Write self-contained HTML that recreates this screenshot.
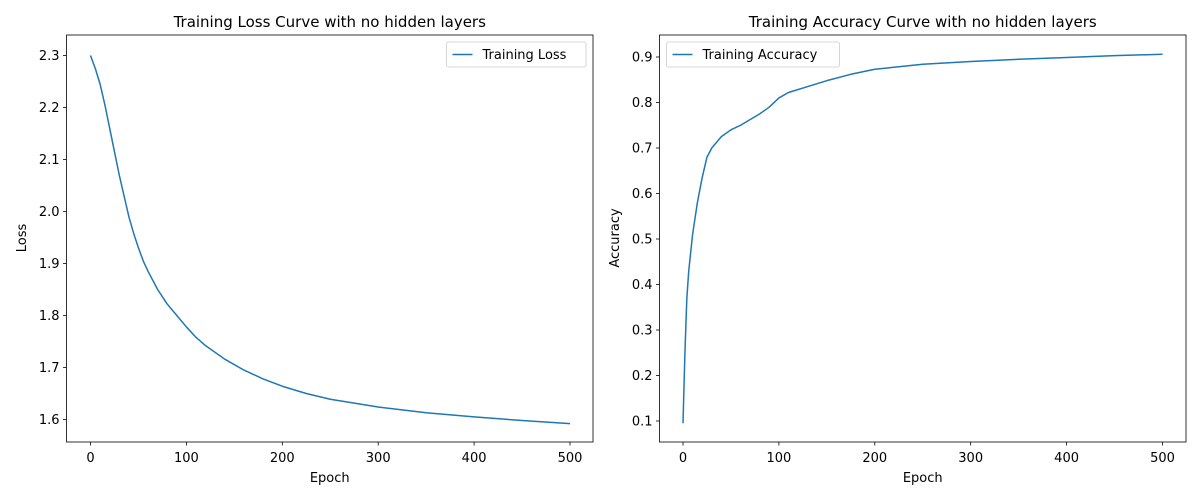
<!DOCTYPE html>
<html><head><meta charset="utf-8"><style>
body{margin:0;background:#fff;font-family:"DejaVu Sans","Liberation Sans",sans-serif}
svg text{font-family:"DejaVu Sans","Liberation Sans",sans-serif;fill:#000}
</style></head><body>
<svg id="chart" width="1200" height="500" xmlns="http://www.w3.org/2000/svg"></svg>
<script>
const lossEpochs=[0,5,10,15,20,25,30,35,40,45,50,55,60,70,80,90,100,110,120,140,160,180,200,225,250,300,350,400,450,500];
const lossValues=[2.30,2.275,2.245,2.205,2.16,2.115,2.07,2.03,1.99,1.958,1.93,1.905,1.885,1.850,1.822,1.800,1.778,1.758,1.742,1.716,1.695,1.678,1.664,1.650,1.639,1.624,1.613,1.605,1.598,1.592];
const accEpochs=[0,2,4,6,10,15,20,25,30,40,50,60,80,90,100,110,130,150,175,200,250,300,350,400,450,500];
const accValues=[0.095,0.25,0.37,0.43,0.51,0.58,0.635,0.68,0.70,0.725,0.74,0.75,0.775,0.79,0.81,0.822,0.835,0.848,0.862,0.873,0.884,0.89,0.895,0.899,0.903,0.906];
const xTicks=[0,100,200,300,400,500];
const lossTicks=[1.6,1.7,1.8,1.9,2.0,2.1,2.2,2.3];
const accTicks=[0.1,0.2,0.3,0.4,0.5,0.6,0.7,0.8,0.9];
const NS="http://www.w3.org/2000/svg";
const svg=document.getElementById('chart');
function mk(t,a,p){const e=document.createElementNS(NS,t);for(const k in a)e.setAttribute(k,a[k]);(p||svg).appendChild(e);return e;}
function panel(o){
  const g=mk('g',{});
  
  
  const sx=v=>o.x0+(v-0)*(o.x500-o.x0)/500;
  const sy=v=>o.yA+(v-o.vA)*(o.yB-o.yA)/(o.vB-o.vA);
  const pts=o.xs.map((x,i)=>sx(x).toFixed(2)+','+sy(o.ys[i]).toFixed(2)).join(' ');
  const pl=mk('polyline',{points:pts,fill:'none',stroke:'#1f77b4','stroke-width':1.5,'stroke-linejoin':'round'},g);
  
  
  const fr=mk('rect',{x:o.L,y:35,width:o.R-o.L,height:442-35,fill:'none',stroke:'#000','stroke-width':0.8},g);
  
  
  xTicks.forEach(t=>{const x=sx(t);mk('line',{x1:x,x2:x,y1:442,y2:445.5,stroke:'#000','stroke-width':0.8},g);
    const tx=mk('text',{x:x,y:462,'font-size':13,'text-anchor':'middle'},g);tx.textContent=t;
    
    });
  o.ticks.forEach(t=>{const y=sy(t);mk('line',{x1:o.L,x2:o.L-3.5,y1:y,y2:y,stroke:'#000','stroke-width':0.8},g);
    const tx=mk('text',{x:o.L-7,y:y+4.5,'font-size':13,'text-anchor':'end'},g);tx.textContent=t.toFixed(1);
    
    });
  const ti=mk('text',{x:(o.L+o.R)/2,y:27,'font-size':15,'text-anchor':'middle'},g);ti.textContent=o.title;
  
  
  const xl=mk('text',{x:(o.L+o.R)/2,y:482,'font-size':13,'text-anchor':'middle'},g);xl.textContent='Epoch';
  
  
  const yl=mk('text',{x:0,y:0,'font-size':13,'text-anchor':'middle',transform:`translate(${o.ylx},238) rotate(-90)`},g);yl.textContent=o.ylabel;
  
  
  const lg=mk('g',{},g);
  
  
  mk('rect',{x:o.lgx,y:42,width:o.lgw,height:25,rx:2,fill:'#fff',stroke:'#ccc','stroke-width':0.8},lg);
  mk('line',{x1:o.lgx+6,x2:o.lgx+26,y1:54.5,y2:54.5,stroke:'#1f77b4','stroke-width':1.5},lg);
  const lt=mk('text',{x:o.lgx+36,y:59,'font-size':13},lg);lt.textContent=o.legend;
}
panel({name:'loss-panel',series:'training-loss-line',L:66.5,R:593,x0:90.5,x500:570,vA:2.3,yA:55.5,vB:1.6,yB:419.5,
  xs:lossEpochs,ys:lossValues,ticks:lossTicks,title:'Training Loss Curve with no hidden layers',ylabel:'Loss',ylx:26,
  lgx:446.5,lgw:139.5,legend:'Training Loss'});
panel({name:'accuracy-panel',series:'training-accuracy-line',L:659.5,R:1186,x0:683,x500:1162.5,vA:0.9,yA:57,vB:0.1,yB:421,
  xs:accEpochs,ys:accValues,ticks:accTicks,title:'Training Accuracy Curve with no hidden layers',ylabel:'Accuracy',ylx:619,
  lgx:666.5,lgw:173,legend:'Training Accuracy'});
</script>
</body></html>
